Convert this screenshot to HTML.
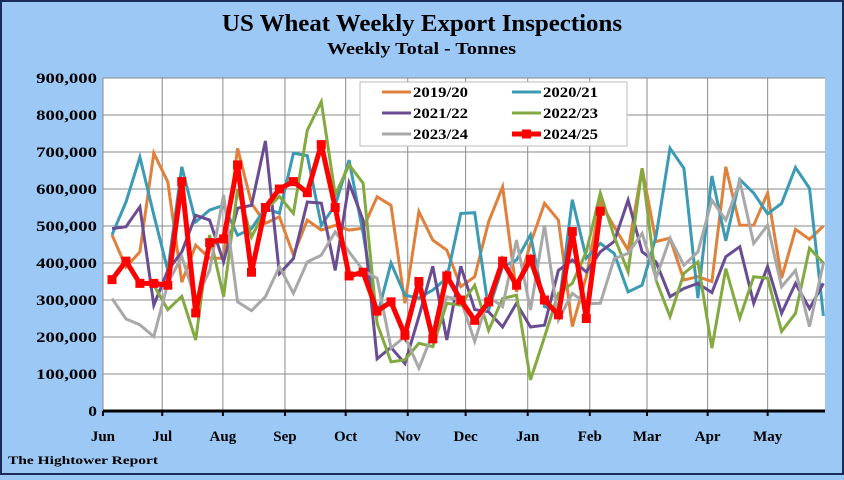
<!DOCTYPE html>
<html><head><meta charset="utf-8"><style>
html,body{margin:0;padding:0;}
body{width:844px;height:475px;overflow:hidden;background:#9cc8f5;}
svg text{font-family:"Liberation Serif",serif;font-weight:bold;}
</style></head><body>
<svg id="chart" width="844" height="475" viewBox="0 0 844 475" xmlns="http://www.w3.org/2000/svg">
<rect x="1" y="1" width="842" height="473" fill="#9cc8f5" stroke="#1a2a5a" stroke-width="2"/>
<text x="222" y="31" textLength="400" lengthAdjust="spacingAndGlyphs" font-size="24" fill="#000">US Wheat Weekly Export Inspections</text>
<text x="327" y="54" textLength="189" lengthAdjust="spacingAndGlyphs" font-size="17" fill="#000">Weekly Total - Tonnes</text>
<rect x="103" y="78" width="722" height="333" fill="#fff"/>
<g id="grid"></g>
<g id="yaxis"></g>
<g id="xaxis"></g>
<g id="series"></g>
<g>
<rect x="360" y="82" width="267" height="64" fill="#fff" stroke="#bbb"/>
<g id="legend"></g>
</g>
<text x="8" y="464" textLength="150" lengthAdjust="spacingAndGlyphs" font-size="12" fill="#000">The Hightower Report</text>
</svg>
<script>
const yTicks=[0,100000,200000,300000,400000,500000,600000,700000,800000,900000];
const yTickLabels=["0","100,000","200,000","300,000","400,000","500,000","600,000","700,000","800,000","900,000"];
const months=["Jun","Jul","Aug","Sep","Oct","Nov","Dec","Jan","Feb","Mar","Apr","May"];
const monthWeeks=[-0.65,3.6,7.95,12.4,16.75,21.2,25.35,29.8,34.25,38.35,42.7,47];
const seriesNames=["2019/20","2020/21","2021/22","2022/23","2023/24","2024/25"];
const s2019=[476,389,430,697,619,348,448,413,413,710,561,507,525,422,516,489,502,489,494,579,556,291,539,462,435,336,363,511,606,322,453,561,516,228,363,565,498,435,656,458,467,354,363,350,660,502,502,589,359,491,464,500];
const s2020=[476,565,686,530,380,660,511,543,556,475,493,548,534,697,690,502,556,678,480,255,400,313,305,327,359,534,536,273,390,408,476,282,273,571,413,453,426,322,340,471,710,656,305,635,460,626,589,533,561,658,602,257];
const s2021=[493,498,552,286,380,430,529,516,403,548,556,730,371,412,565,562,380,616,516,141,172,128,255,391,192,391,274,268,227,291,227,232,380,408,376,430,458,570,430,403,309,331,345,320,417,444,291,391,264,345,277,345];
const s2022=[355,400,345,340,274,310,192,476,309,600,470,543,580,534,759,836,584,665,616,237,133,138,183,174,291,286,340,218,304,313,84,200,318,345,430,589,471,376,656,354,255,372,403,170,385,251,363,359,215,264,440,400];
const s2023=[304,249,233,201,345,417,300,380,584,295,271,309,390,318,403,421,484,430,380,359,170,201,116,210,309,300,188,309,282,462,273,502,246,318,290,291,412,426,480,359,467,394,430,570,516,620,453,502,336,380,228,400];
const s2024=[355,405,345,345,340,620,265,455,465,665,375,550,600,620,590,720,550,365,375,270,295,205,350,195,365,300,245,295,405,340,410,300,260,485,250,540];
const colors=["#E0803A","#3B9AB4","#6A4C93","#82AA40","#A8A8A8","#FF0000"];
const allSeries=[s2019,s2020,s2021,s2022,s2023,s2024];
const NS="http://www.w3.org/2000/svg";
const X0=112,XSTEP=13.95,Y0=411,YTOP=78,YMAX=900000,PL=103,PR=825;
function xs(i){return X0+i*XSTEP;}
function ys(v){return Y0-(v/YMAX)*(Y0-YTOP);}
function mk(tag,attrs,parent){const e=document.createElementNS(NS,tag);for(const k in attrs)e.setAttribute(k,attrs[k]);parent.appendChild(e);return e;}
const grid=document.getElementById('grid'),yax=document.getElementById('yaxis'),xax=document.getElementById('xaxis'),ser=document.getElementById('series'),leg=document.getElementById('legend');
yTicks.forEach((t,i)=>{
 const y=ys(t);
 if(t>0){const l=mk('line',{x1:PL,x2:PR,y1:y,y2:y,stroke:'#8a8a8a','stroke-width':1},grid);
 
 }
 const lab=yTickLabels[i];
 const tx=mk('text',{x:97,y:y+5,'text-anchor':'end','font-size':15,textLength:(lab.length*8.7).toFixed(1),lengthAdjust:'spacingAndGlyphs'},yax);
 tx.textContent=lab;
 
 
});
months.forEach((m,i)=>{
 const x=xs(monthWeeks[i]);
 if(i>0){const l=mk('line',{x1:x,x2:x,y1:YTOP,y2:Y0,stroke:'#8a8a8a','stroke-width':1},grid);
 
 }
 const tk=mk('line',{x1:x,x2:x,y1:Y0,y2:Y0+5,stroke:'#000','stroke-width':2},xax);
 
 
 const tx=mk('text',{x:x,y:441,'text-anchor':'middle','font-size':15},xax);
 tx.textContent=m;
 
 
});
const ax=mk('line',{x1:PL,x2:PR,y1:Y0,y2:Y0,stroke:'#000','stroke-width':3},xax);


const axl=mk('line',{x1:PL,x2:PL,y1:YTOP,y2:Y0,stroke:'#8a8a8a','stroke-width':1},yax);


allSeries.forEach((d,si)=>{
 const pts=d.map((v,i)=>xs(i).toFixed(1)+','+ys(v*1000).toFixed(1)).join(' ');
 const isRed=si===5;
 const pl=mk('polyline',{points:pts,fill:'none',stroke:colors[si],'stroke-width':isRed?5:3,'stroke-linejoin':'miter'},ser);
 
 
 if(isRed){d.forEach((v,i)=>{
  const r=mk('rect',{x:xs(i)-4.5,y:ys(v*1000)-4.5,width:9,height:9,fill:colors[si]},ser);
  
  
 });}
 const col=si%2,row=Math.floor(si/2);
 const lx=382+col*130,ly=92+row*21;
 const ll=mk('line',{x1:lx,x2:lx+29,y1:ly,y2:ly,stroke:colors[si],'stroke-width':isRed?5:3},leg);
 
 
 if(isRed){const m=mk('rect',{x:lx+10,y:ly-4.5,width:9,height:9,fill:colors[si]},leg);
 
 }
 const lt=mk('text',{x:lx+31,y:ly+5,'font-size':15,textLength:55,lengthAdjust:'spacingAndGlyphs'},leg);
 lt.textContent=seriesNames[si];
 
 
});
</script>
</body></html>
